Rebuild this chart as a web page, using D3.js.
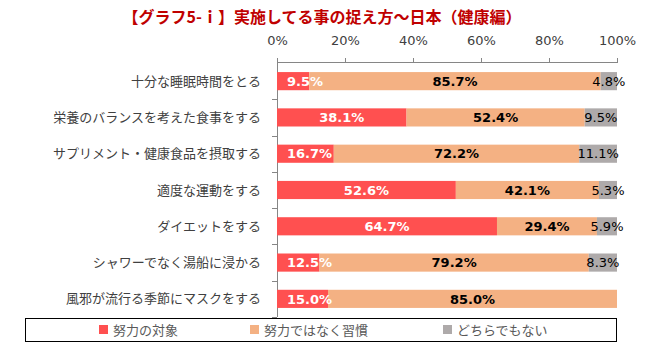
<!DOCTYPE html>
<html>
<head>
<meta charset="utf-8">
<title>グラフ5-i</title>
<style>
  body { margin: 0; background: #fff; }
  text { font-family: "Noto Sans CJK JP", "Noto Sans", sans-serif; }
  .num { font-family: "DejaVu Sans", Verdana, sans-serif; }
</style>
</head>
<body>
<script src="https://cdn.jsdelivr.net/npm/d3@7"></script>
<script>
// data
var categories = ["十分な睡眠時間をとる", "栄養のバランスを考えた食事をする", "サプリメント・健康食品を摂取する",
                  "適度な運動をする", "ダイエットをする", "シャワーでなく湯船に浸かる", "風邪が流行る季節にマスクをする"];
var targetVals = [9.5, 38.1, 16.7, 52.6, 64.7, 12.5, 15.0];   // 努力の対象
var habitVals  = [85.7, 52.4, 72.2, 42.1, 29.4, 79.2, 85.0];  // 努力ではなく習慣
var neitherVals = [4.8, 9.5, 11.1, 5.3, 5.9, 8.3, 0];         // どちらでもない
var seriesNames = ["努力の対象", "努力ではなく習慣", "どちらでもない"];
var tickVals = [0, 20, 40, 60, 80, 100];
var titleText = "【グラフ5-ｉ】実施してる事の捉え方～日本（健康編）";

var width = 649, height = 352;
var colors = ["#FF5050", "#F4B183", "#AEAAAA"];
var keys = ["a", "b", "c"];

var rows = categories.map(function(c, i) {
  return { cat: c, a: targetVals[i], b: habitVals[i], c: neitherVals[i] };
});

var svg = d3.select("body").append("svg")
    .attr("width", width)
    .attr("height", height);

var x = d3.scaleLinear().domain([0, 100]).range([277, 617]);
var y = d3.scaleBand().domain(categories).range([63, 317]).paddingInner(0.5).paddingOuter(0.25);

// title
svg.append("text")
   .attr("x", 322).attr("y", 23)
   .attr("text-anchor", "middle")
   .attr("font-size", 16).attr("font-weight", "bold")
   .attr("fill", "#C00000")
   .text(titleText);

// top axis
var xAxis = d3.axisTop(x).tickValues(tickVals).tickSize(5).tickPadding(13).tickFormat(function(d) { return d + "%"; });
var gx = svg.append("g").attr("transform", "translate(0,63)").call(xAxis);
gx.select(".domain").attr("stroke", "#868686").attr("d", "M277,-0.5H617");
gx.selectAll(".tick line").attr("stroke", "#868686");
gx.selectAll(".tick text").attr("font-size", 13).attr("fill", "#404040")
  .attr("font-family", null).attr("class", "num");

// left axis line + ticks at band boundaries
svg.append("line").attr("x1", 277.5).attr("x2", 277.5).attr("y1", 63).attr("y2", 317).attr("stroke", "#868686");
var step = y.step();
svg.selectAll(".ytick").data(d3.range(1, categories.length + 1)).enter().append("line")
   .attr("x1", 272).attr("x2", 277)
   .attr("y1", function(k) { return Math.round(63 + k * step) + 0.5; })
   .attr("y2", function(k) { return Math.round(63 + k * step) + 0.5; })
   .attr("stroke", "#868686");

svg.selectAll(".cat").data(categories).enter().append("text")
   .attr("x", 261)
   .attr("y", function(d) { return y(d) + y.bandwidth() / 2; })
   .attr("dy", "0.35em")
   .attr("text-anchor", "end")
   .attr("font-size", 13)
   .attr("fill", "#404040")
   .text(function(d) { return d; });

// stacked bars
var stacked = d3.stack().keys(keys)(rows);
var layers = svg.selectAll(".layer").data(stacked).enter().append("g")
   .attr("fill", function(d, i) { return colors[i]; });
layers.selectAll("rect").data(function(d) { return d; }).enter().append("rect")
   .attr("x", function(d) { return x(d[0]); })
   .attr("y", function(d) { return y(d.data.cat); })
   .attr("width", function(d) { return x(d[1]) - x(d[0]); })
   .attr("height", y.bandwidth());

// value labels
stacked.forEach(function(layer, li) {
  var g = svg.append("g");
  layer.forEach(function(d) {
    var v = d.data[keys[li]];
    if (!v) return;
    var t = g.append("text")
       .attr("class", "num")
       .attr("y", y(d.data.cat) + y.bandwidth() / 2)
       .attr("dy", "0.36em")
       .attr("text-anchor", "middle")
       .attr("font-size", 13)
       .attr("font-weight", li < 2 ? "bold" : "normal")
       .attr("fill", li == 0 ? "#fff" : "#000")
       .text(v.toFixed(1) + "%");
    var mid = (x(d[0]) + x(d[1])) / 2;
    if (li == 0) {
      var w = t.node().getComputedTextLength();
      mid = Math.max(mid, x(0) + w / 2 + 10);
    }
    t.attr("x", mid);
  });
});

// legend
var leg = svg.append("g");
leg.append("rect").attr("x", 25.5).attr("y", 318.5).attr("width", 591).attr("height", 23)
   .attr("fill", "none").attr("stroke", "#000");
var legX = [99, 250, 443];
seriesNames.forEach(function(n, i) {
  leg.append("rect").attr("x", legX[i]).attr("y", 325).attr("width", 9).attr("height", 9).attr("fill", colors[i]);
  leg.append("text").attr("x", legX[i] + 14).attr("y", 330).attr("dy", "0.35em")
     .attr("font-size", 13).attr("fill", "#595959").text(n);
});
</script>
</body>
</html>
